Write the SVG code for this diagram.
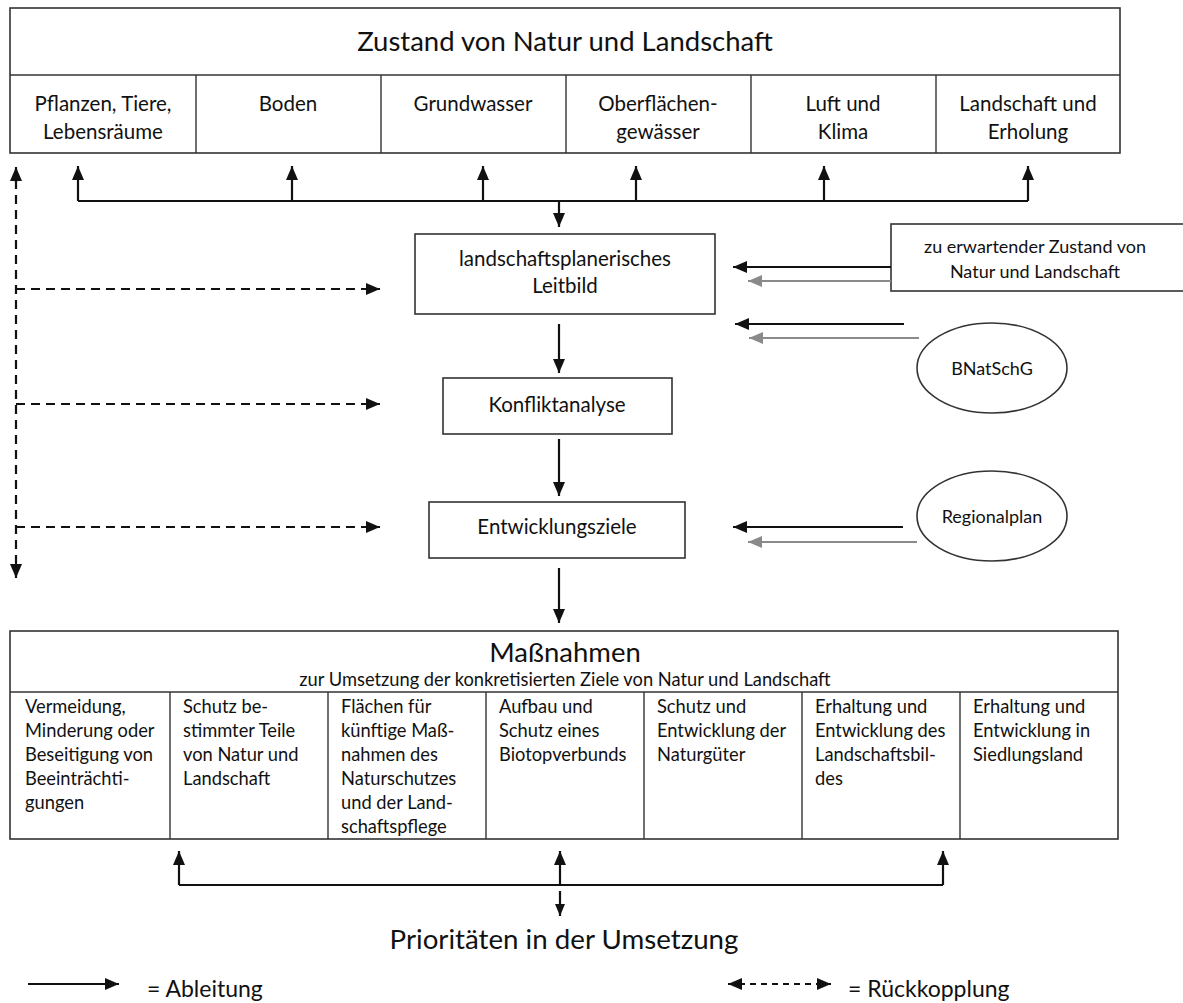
<svg xmlns="http://www.w3.org/2000/svg" width="1183" height="1003" viewBox="0 0 1183 1003">
<style>
  text { font-family: Lato, "Liberation Sans", sans-serif; fill: #111; }
  .box { fill: #fff; stroke: #333; stroke-width: 1.6; }
  .ln { fill: none; stroke: #333; stroke-width: 1.4; }
  .c { text-anchor: middle; }
  .h { font-size: 27.5px; }
  .t { font-size: 20.5px; }
  .s { font-size: 18px; }
  .b { font-size: 18.3px; }
  .lg { font-size: 23px; }
  .arr { fill: none; stroke: #111; stroke-width: 2.2; }
  .gray { fill: none; stroke: #8a8a8a; stroke-width: 2.2; }
  .dash { fill: none; stroke: #111; stroke-width: 2.2; stroke-dasharray: 9 6; }
</style>
<defs>
  <marker id="ah" markerUnits="userSpaceOnUse" markerWidth="14" markerHeight="12" refX="14" refY="6" orient="auto">
    <path d="M0,0 L14,6 L0,12 z" fill="#111"/>
  </marker>
  <marker id="ahs" markerUnits="userSpaceOnUse" markerWidth="12" markerHeight="10" refX="12" refY="5" orient="auto">
    <path d="M0,0 L12,5 L0,10 z" fill="#111"/>
  </marker>
  <marker id="ahg" markerUnits="userSpaceOnUse" markerWidth="14" markerHeight="12" refX="14" refY="6" orient="auto">
    <path d="M0,0 L14,6 L0,12 z" fill="#8a8a8a"/>
  </marker>
  <marker id="ahr" markerUnits="userSpaceOnUse" markerWidth="14" markerHeight="12" refX="0" refY="6" orient="auto">
    <path d="M14,0 L0,6 L14,12 z" fill="#111"/>
  </marker>
</defs>

<g id="zustand">
  <rect class="box" x="10" y="8" width="1110" height="145"/>
  <line class="ln" x1="10" y1="75" x2="1120" y2="75"/>
  <line class="ln" x1="196" y1="75" x2="196" y2="153"/>
  <line class="ln" x1="381" y1="75" x2="381" y2="153"/>
  <line class="ln" x1="566" y1="75" x2="566" y2="153"/>
  <line class="ln" x1="751" y1="75" x2="751" y2="153"/>
  <line class="ln" x1="936" y1="75" x2="936" y2="153"/>
  <text class="h c" x="565" y="51">Zustand von Natur und Landschaft</text>
  <text class="t c" x="103" y="111">Pflanzen, Tiere,</text>
  <text class="t c" x="103" y="139">Lebensräume</text>
  <text class="t c" x="288" y="111">Boden</text>
  <text class="t c" x="473" y="111">Grundwasser</text>
  <text class="t c" x="658" y="111">Oberflächen-</text>
  <text class="t c" x="658" y="139">gewässer</text>
  <text class="t c" x="843" y="111">Luft und</text>
  <text class="t c" x="843" y="139">Klima</text>
  <text class="t c" x="1028" y="111">Landschaft und</text>
  <text class="t c" x="1028" y="139">Erholung</text>
</g>

<g id="leitbild">
  <rect class="box" x="415" y="234" width="300" height="80"/>
  <text class="t c" x="565" y="266">landschaftsplanerisches</text>
  <text class="t c" x="565" y="293">Leitbild</text>
</g>

<g id="konfliktanalyse">
  <rect class="box" x="443" y="378" width="229" height="56"/>
  <text class="t c" x="557" y="412">Konfliktanalyse</text>
</g>

<g id="entwicklungsziele">
  <rect class="box" x="429" y="502" width="256" height="56"/>
  <text class="t c" x="557" y="534">Entwicklungsziele</text>
</g>

<g id="erwartend">
  <rect class="box" x="891" y="224" width="300" height="67"/>
  <text class="s c" x="1035" y="253">zu erwartender Zustand von</text>
  <text class="s c" x="1035" y="278">Natur und Landschaft</text>
</g>

<g id="bnatschg">
  <ellipse class="box" cx="992" cy="368" rx="75" ry="45"/>
  <text class="s c" x="992" y="375">BNatSchG</text>
</g>

<g id="regionalplan">
  <ellipse class="box" cx="992" cy="516" rx="75" ry="45"/>
  <text class="s c" x="992" y="523">Regionalplan</text>
</g>

<g id="massnahmen">
  <rect class="box" x="10" y="631" width="1108" height="208"/>
  <line class="ln" x1="10" y1="692" x2="1118" y2="692"/>
  <line class="ln" x1="170" y1="692" x2="170" y2="839"/>
  <line class="ln" x1="328" y1="692" x2="328" y2="839"/>
  <line class="ln" x1="486" y1="692" x2="486" y2="839"/>
  <line class="ln" x1="644" y1="692" x2="644" y2="839"/>
  <line class="ln" x1="802" y1="692" x2="802" y2="839"/>
  <line class="ln" x1="960" y1="692" x2="960" y2="839"/>
  <text class="h c" x="565" y="662">Maßnahmen</text>
  <text class="b c" x="565" y="686">zur Umsetzung der konkretisierten Ziele von Natur und Landschaft</text>
  <g class="b">
    <text x="25" y="713">Vermeidung,</text>
    <text x="25" y="737">Minderung oder</text>
    <text x="25" y="761">Beseitigung von</text>
    <text x="25" y="785">Beeinträchti-</text>
    <text x="25" y="809">gungen</text>
    <text x="183" y="713">Schutz be-</text>
    <text x="183" y="737">stimmter Teile</text>
    <text x="183" y="761">von Natur und</text>
    <text x="183" y="785">Landschaft</text>
    <text x="341" y="713">Flächen für</text>
    <text x="341" y="737">künftige Maß-</text>
    <text x="341" y="761">nahmen des</text>
    <text x="341" y="785">Naturschutzes</text>
    <text x="341" y="809">und der Land-</text>
    <text x="341" y="833">schaftspflege</text>
    <text x="499" y="713">Aufbau und</text>
    <text x="499" y="737">Schutz eines</text>
    <text x="499" y="761">Biotopverbunds</text>
    <text x="657" y="713">Schutz und</text>
    <text x="657" y="737">Entwicklung der</text>
    <text x="657" y="761">Naturgüter</text>
    <text x="815" y="713">Erhaltung und</text>
    <text x="815" y="737">Entwicklung des</text>
    <text x="815" y="761">Landschaftsbil-</text>
    <text x="815" y="785">des</text>
    <text x="973" y="713">Erhaltung und</text>
    <text x="973" y="737">Entwicklung in</text>
    <text x="973" y="761">Siedlungsland</text>
  </g>
</g>

<g id="prioritaeten">
  <text class="c" x="564" y="949" style="font-size:27.7px">Prioritäten in der Umsetzung</text>
</g>

<g id="legend">
  <line class="arr" x1="28" y1="984" x2="119" y2="984" marker-end="url(#ah)"/>
  <text class="lg" x="147" y="997">= Ableitung</text>
  <line class="dash" x1="728" y1="984" x2="831" y2="984" marker-start="url(#ahr)" marker-end="url(#ah)" style="stroke-dasharray:6 5"/>
  <text class="lg" x="848" y="997">= Rückkopplung</text>
</g>

<g id="connectors">
  <polyline class="arr" points="78,201 1028,201"/>
  <line class="arr" x1="78" y1="201" x2="78" y2="166" marker-end="url(#ah)"/>
  <line class="arr" x1="292" y1="201" x2="292" y2="166" marker-end="url(#ah)"/>
  <line class="arr" x1="483" y1="201" x2="483" y2="166" marker-end="url(#ah)"/>
  <line class="arr" x1="636" y1="201" x2="636" y2="166" marker-end="url(#ah)"/>
  <line class="arr" x1="824" y1="201" x2="824" y2="166" marker-end="url(#ah)"/>
  <line class="arr" x1="1028" y1="201" x2="1028" y2="166" marker-end="url(#ah)"/>
  <line class="arr" x1="559" y1="201" x2="559" y2="227" marker-end="url(#ah)"/>
  <line class="arr" x1="559" y1="324" x2="559" y2="373" marker-end="url(#ah)"/>
  <line class="arr" x1="559" y1="439" x2="559" y2="496" marker-end="url(#ah)"/>
  <line class="arr" x1="559" y1="568" x2="559" y2="623" marker-end="url(#ah)"/>
  <line class="arr" x1="891" y1="267" x2="733" y2="267" marker-end="url(#ah)"/>
  <line class="gray" x1="891" y1="281" x2="748" y2="281" marker-end="url(#ahg)"/>
  <line class="arr" x1="904" y1="324" x2="735" y2="324" marker-end="url(#ah)"/>
  <line class="gray" x1="919" y1="338" x2="749" y2="338" marker-end="url(#ahg)"/>
  <line class="arr" x1="903" y1="527" x2="733" y2="527" marker-end="url(#ah)"/>
  <line class="gray" x1="917" y1="542" x2="748" y2="542" marker-end="url(#ahg)"/>
  <line class="dash" x1="16" y1="180" x2="16" y2="578" marker-end="url(#ah)"/>
  <line class="arr" x1="16" y1="182" x2="16" y2="167" marker-end="url(#ah)"/>
  <line class="dash" x1="16" y1="289" x2="380" y2="289" marker-end="url(#ah)"/>
  <line class="dash" x1="16" y1="404" x2="380" y2="404" marker-end="url(#ah)"/>
  <line class="dash" x1="16" y1="527" x2="380" y2="527" marker-end="url(#ah)"/>
  <polyline class="arr" points="179,885 943,885"/>
  <line class="arr" x1="179" y1="885" x2="179" y2="851" marker-end="url(#ah)"/>
  <line class="arr" x1="560" y1="885" x2="560" y2="851" marker-end="url(#ah)"/>
  <line class="arr" x1="943" y1="885" x2="943" y2="851" marker-end="url(#ah)"/>
  <line class="arr" x1="560" y1="891" x2="560" y2="916" marker-end="url(#ahs)"/>
</g>
</svg>
